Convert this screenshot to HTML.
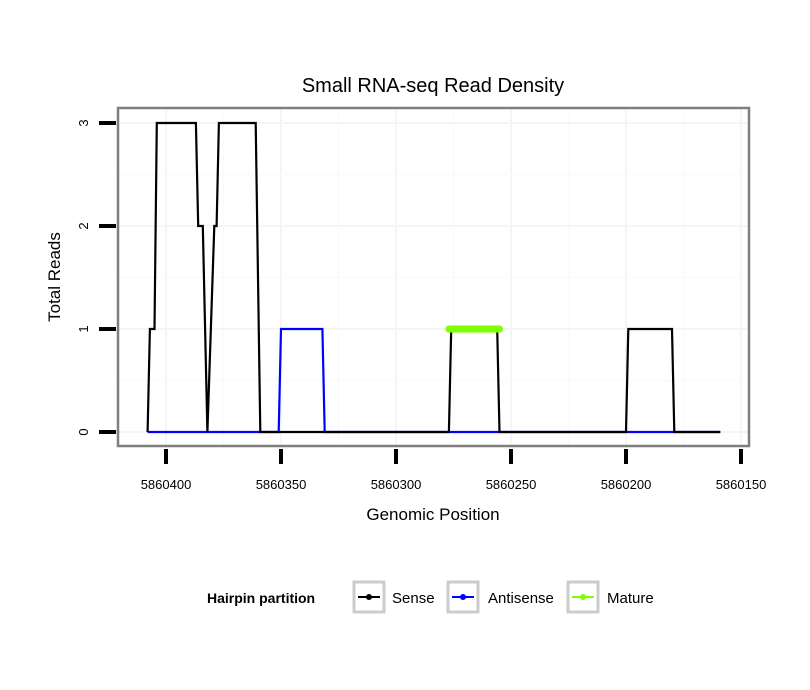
<!DOCTYPE html>
<html><head><meta charset="utf-8"><style>
body{margin:0;background:#fff;}
svg{display:block;font-family:"Liberation Sans",sans-serif;}
</style></head><body>
<svg id="chart" width="810" height="690" viewBox="0 0 810 690">
<rect width="810" height="690" fill="#fff"/>
<text x="433" y="92" text-anchor="middle" font-size="20" fill="#000">Small RNA-seq Read Density</text>
<g id="grid"></g>
<g id="series"></g>
<rect x="118" y="108" width="631" height="338" fill="none" stroke="#7f7f7f" stroke-width="2.5"/>
<g id="axes"></g>
<text x="433" y="520" text-anchor="middle" font-size="17">Genomic Position</text>
<text transform="translate(60,277) rotate(-90)" text-anchor="middle" font-size="17">Total Reads</text>
<g>
<text x="207" y="603" font-size="14" font-weight="bold">Hairpin partition</text>
<g>
<rect x="354" y="582" width="30" height="30" fill="#fff" stroke="#cccccc" stroke-width="3"/>
<line x1="358" y1="597" x2="380" y2="597" stroke="#000" stroke-width="2"/><circle cx="369" cy="597" r="3" fill="#000"/>
<text x="392" y="603" font-size="15">Sense</text></g>
<g>
<rect x="448" y="582" width="30" height="30" fill="#fff" stroke="#cccccc" stroke-width="3"/>
<line x1="452" y1="597" x2="474" y2="597" stroke="#0000ff" stroke-width="2"/><circle cx="463" cy="597" r="3" fill="#0000ff"/>
<text x="488" y="603" font-size="15">Antisense</text></g>
<g>
<rect x="568" y="582" width="30" height="30" fill="#fff" stroke="#cccccc" stroke-width="3"/>
<line x1="572" y1="597" x2="594" y2="597" stroke="#7fff00" stroke-width="2"/><circle cx="583" cy="597" r="3" fill="#7fff00"/>
<text x="607" y="603" font-size="15">Mature</text></g>
</g>
</svg>
<script>
const xTicks = [5860400, 5860350, 5860300, 5860250, 5860200, 5860150];
const xTickLabels = ["5860400", "5860350", "5860300", "5860250", "5860200", "5860150"];
const yTicks = [0, 1, 2, 3];
const yTickLabels = ["0", "1", "2", "3"];
const sensePos = [5860408,5860407,5860405,5860404,5860387,5860386,5860384,5860382,5860379,5860378,5860377,5860361,5860359,5860277,5860276,5860256,5860255,5860200,5860199,5860180,5860179,5860159];
const senseVals = [0,1,1,3,3,2,2,0,2,2,3,3,0,0,1,1,0,0,1,1,0,0];
const antiPos = [5860408,5860351,5860350,5860332,5860331,5860159];
const antiVals = [0,0,1,1,0,0];
const maturePos = [5860277,5860255];
const matureVals = [1,1];

const NS = "http://www.w3.org/2000/svg";
function xs(p){ return 166 + (5860400 - p) * 2.3; }
function ys(v){ return 432 - v * 103; }
function mk(tag, attrs, parent){ const e=document.createElementNS(NS,tag); for(const k in attrs) e.setAttribute(k,attrs[k]); parent.appendChild(e); return e; }

const grid=document.getElementById('grid'), axes=document.getElementById('axes'), series=document.getElementById('series');
for(let i=0;i<xTicks.length;i++){
  const x=xs(xTicks[i]);
  const g=mk('line',{x1:x,x2:x,y1:108,y2:446,stroke:'#f5f5f5','stroke-width':2},grid);
   
  const xm=xs(xTicks[i]+25);
  if(xm>118 && xm<749){ const m=mk('line',{x1:xm,x2:xm,y1:108,y2:446,stroke:'#fafafa','stroke-width':1.5},grid);
    }
  const t=mk('line',{x1:x,x2:x,y1:449,y2:464,stroke:'#000','stroke-width':4},axes);
   
  const lb=mk('text',{x:x,y:489,'text-anchor':'middle','font-size':13},axes); lb.textContent=xTickLabels[i];
   
}
for(let i=0;i<yTicks.length;i++){
  const y=ys(yTicks[i]);
  const g=mk('line',{x1:118,x2:749,y1:y,y2:y,stroke:'#f5f5f5','stroke-width':2},grid);
   
  const ym=ys(yTicks[i]+0.5);
  if(ym>108){ const m=mk('line',{x1:118,x2:749,y1:ym,y2:ym,stroke:'#fafafa','stroke-width':1.5},grid);
    }
  const t=mk('line',{x1:99,x2:116,y1:y,y2:y,stroke:'#000','stroke-width':4},axes);
   
  const lb=mk('text',{transform:`translate(88,${y}) rotate(-90)`,'text-anchor':'middle','font-size':13},axes); lb.textContent=yTickLabels[i];
   
}
function pts(P,V){ return P.map((p,i)=>xs(p).toFixed(1)+','+ys(V[i]).toFixed(1)).join(' '); }
const a=mk('polyline',{points:pts(antiPos,antiVals),fill:'none',stroke:'#0000ff','stroke-width':2.2},series);
 
const s=mk('polyline',{points:pts(sensePos,senseVals),fill:'none',stroke:'#000','stroke-width':2.2},series);
 
const m=mk('polyline',{points:pts(maturePos,matureVals),fill:'none',stroke:'#7fff00','stroke-width':7,'stroke-linecap':'round'},series);
 
</script>
</body></html>
